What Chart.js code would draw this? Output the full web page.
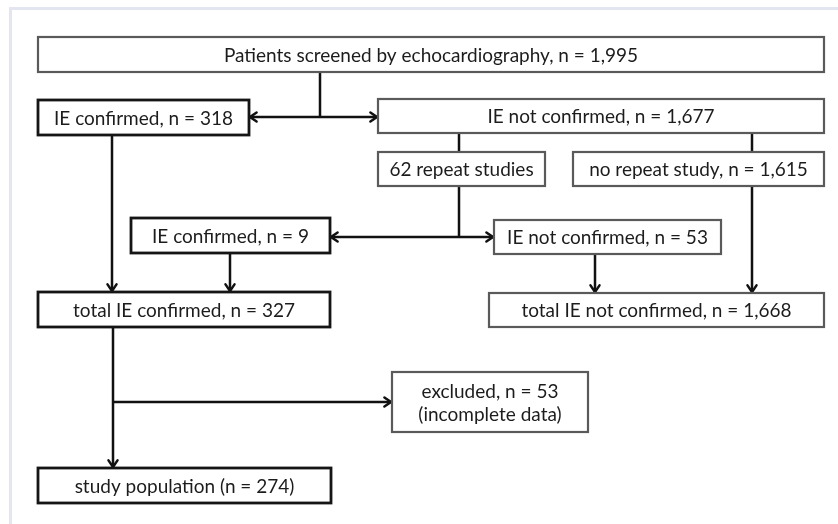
<!DOCTYPE html>
<html>
<head>
<meta charset="utf-8">
<script src="https://cdn.jsdelivr.net/npm/chart.js@4"></script>
<style>
  html, body { margin:0; padding:0; background:#fff; }
  canvas { display:block; }
</style>
</head>
<body>
<canvas id="flow" width="838" height="524"></canvas>
<script>
// ---- Flowchart data (diagram units = pixels of the 838x524 sheet) ----
const nodeLabels = [
  ['Patients screened by echocardiography, n = 1,995'],
  ['IE confirmed, n = 318'],
  ['IE not confirmed, n = 1,677'],
  ['62 repeat studies'],
  ['no repeat study, n = 1,615'],
  ['IE confirmed, n = 9'],
  ['IE not confirmed, n = 53'],
  ['total IE confirmed, n = 327'],
  ['total IE not confirmed, n = 1,668'],
  ['excluded, n = 53', '(incomplete data)'],
  ['study population (n = 274)'],
];
const nodeLeft   = [ 38,  38, 378, 378, 573, 131, 494,  38, 489, 392,  38];
const nodeTop    = [ 37, 100,  99, 152, 152, 218, 220, 292, 293, 372, 468];
const nodeRight  = [824, 249, 824, 545, 824, 330, 721, 330, 824, 588, 331];
const nodeBottom = [ 72, 135, 133, 186, 186, 253, 254, 327, 327, 432, 503];

// connectors: x1, y1, x2, y2, arrowhead at end
const links = [
  [320,  72, 320, 117, false],
  [320, 117, 250, 117, true ],
  [320, 117, 377, 117, true ],
  [459, 133, 459, 152, false],
  [752, 133, 752, 152, false],
  [459, 186, 459, 237, false],
  [459, 237, 331, 237, true ],
  [459, 237, 493, 237, true ],
  [752, 186, 752, 292, true ],
  [112, 135, 112, 291, true ],
  [230, 253, 230, 291, true ],
  [595, 254, 595, 292, true ],
  [113, 327, 113, 467, true ],
  [113, 402, 391, 402, true ],
];

const boldNodes = new Set([1, 5, 7, 10]);
const FONT = '19px Lato, "Open Sans", sans-serif';

// ---- Plugin: sheet frame, boxes, arrowheads ----
const flowPlugin = {
  id: 'flow',
  beforeDraw(chart) {
    const { ctx, scales:{ x, y } } = chart;
    ctx.save();
    ctx.strokeStyle = '#e3e5f1';
    ctx.lineWidth = 3;
    ctx.beginPath();
    ctx.moveTo(x.getPixelForValue(10.5), y.getPixelForValue(524));
    ctx.lineTo(x.getPixelForValue(10.5), y.getPixelForValue(8.5));
    ctx.lineTo(x.getPixelForValue(838), y.getPixelForValue(8.5));
    ctx.stroke();
    ctx.restore();
  },
  afterDatasetsDraw(chart) {
    const { ctx, scales:{ x, y } } = chart;
    ctx.save();

    // arrowheads at the end of each flagged connector
    chart.data.datasets.forEach((ds, i) => {
      if (!links[i][4]) return;
      const pts = chart.getDatasetMeta(i).data;
      const a = pts[0], b = pts[1];
      const ang = Math.atan2(b.y - a.y, b.x - a.x);
      const len = 8, spread = 0.6;
      ctx.strokeStyle = '#111';
      ctx.lineWidth = 2.5;
      ctx.lineCap = 'round';
      ctx.beginPath();
      ctx.moveTo(b.x - len * Math.cos(ang - spread), b.y - len * Math.sin(ang - spread));
      ctx.lineTo(b.x, b.y);
      ctx.lineTo(b.x - len * Math.cos(ang + spread), b.y - len * Math.sin(ang + spread));
      ctx.stroke();
    });

    // boxes
    nodeLabels.forEach((lines, i) => {
      const l = x.getPixelForValue(nodeLeft[i]);
      const r = x.getPixelForValue(nodeRight[i]);
      const t = y.getPixelForValue(nodeTop[i]);
      const b = y.getPixelForValue(nodeBottom[i]);
      const bold = boldNodes.has(i);
      ctx.fillStyle = '#fff';
      ctx.fillRect(l, t, r - l, b - t);
      ctx.lineCap = 'butt';
      ctx.lineWidth = bold ? 2.8 : 2.2;
      ctx.strokeStyle = bold ? '#151515' : '#5a5a5a';
      ctx.strokeRect(l, t, r - l, b - t);

      ctx.fillStyle = '#1c1c1c';
      ctx.font = FONT;
      ctx.textAlign = 'center';
      ctx.textBaseline = 'middle';
      const cx = (l + r) / 2, cy = (t + b) / 2, gap = 23;
      lines.forEach((txt, k) => {
        ctx.fillText(txt, cx, cy + (k - (lines.length - 1) / 2) * gap + 1);
      });
    });
    ctx.restore();
  },
};

new Chart(document.getElementById('flow'), {
  type: 'scatter',
  data: {
    datasets: links.map(([x1, y1, x2, y2]) => ({
      data: [{ x:x1, y:y1 }, { x:x2, y:y2 }],
      showLine: true,
      borderColor: '#111',
      borderWidth: 2.5,
      pointRadius: 0,
      pointHoverRadius: 0,
    })),
  },
  options: {
    responsive: false,
    animation: false,
    events: [],
    layout: { padding: 0 },
    plugins: { legend:{ display:false }, tooltip:{ enabled:false } },
    scales: {
      x: { type:'linear', min:0, max:838, display:false },
      y: { type:'linear', min:0, max:524, reverse:true, display:false },
    },
  },
  plugins: [flowPlugin],
});
</script>
</body>
</html>
